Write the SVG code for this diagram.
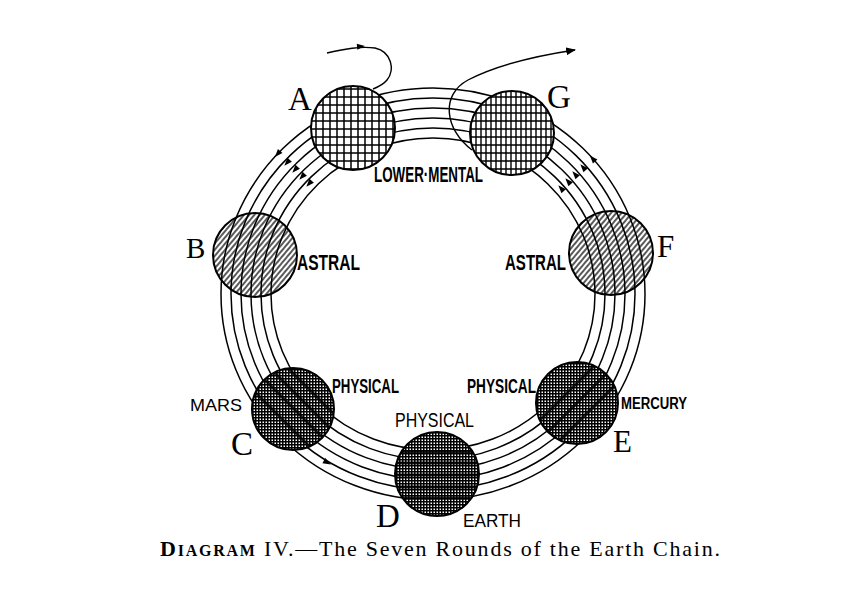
<svg xmlns="http://www.w3.org/2000/svg" width="860" height="589" viewBox="0 0 860 589">
<style>
.ring{fill:none;stroke:#000;stroke-width:1.5}
.edge{stroke:#000;stroke-width:2}
.lbl{font-family:"Liberation Sans",Arial,sans-serif;font-weight:bold;fill:#000}
.reg{font-weight:normal}
.let{font-family:"Liberation Serif","Times New Roman",serif;fill:#000}
.cap{font-family:"Liberation Serif","Times New Roman",serif;fill:#000}
.flow{fill:none;stroke:#000;stroke-width:1.4}
</style>
<defs>
<pattern id="gridA" width="7" height="8" patternUnits="userSpaceOnUse"><path d="M1,0V8M0,1H7" stroke="#000" stroke-width="1.5"/></pattern>
<pattern id="gridG" width="5" height="8" patternUnits="userSpaceOnUse"><path d="M1,0V8M0,1H5" stroke="#000" stroke-width="1.4"/></pattern>
<pattern id="hatch" width="4" height="4" patternUnits="userSpaceOnUse" patternTransform="rotate(40)"><path d="M1,0V4" stroke="#000" stroke-width="1.3"/></pattern>
<pattern id="fine" width="3" height="3" patternUnits="userSpaceOnUse"><path d="M0.7,0V3M0,0.7H3" stroke="#000" stroke-width="1.6"/></pattern>
<path id="ah" d="M1,0 L-7,-3 L-7,3 Z" fill="#000"/>
<marker id="arr" viewBox="0 0 10 10" refX="9" refY="5" markerWidth="7" markerHeight="7" orient="auto"><path d="M0,1 L10,5 L0,9 Z" fill="#000"/></marker>
<clipPath id="cC"><circle cx="293" cy="409" r="41"/></clipPath>
<clipPath id="cD"><circle cx="437" cy="474" r="42"/></clipPath>
<clipPath id="cE"><circle cx="577" cy="403" r="41"/></clipPath>
</defs>
<rect width="860" height="589" fill="#fff"/>

<g id="connectors">
<ellipse class="ring" cx="433" cy="294" rx="212" ry="206"/>
<ellipse class="ring" cx="433" cy="294" rx="202" ry="196"/>
<ellipse class="ring" cx="433" cy="294" rx="192" ry="186"/>
<ellipse class="ring" cx="433" cy="294" rx="182" ry="176"/>
<ellipse class="ring" cx="433" cy="294" rx="172" ry="166"/>
<ellipse class="ring" cx="433" cy="294" rx="162" ry="156"/>
<use href="#ah" transform="translate(275.5,156.2) rotate(132)"/>
<use href="#ah" transform="translate(285,165) rotate(132)"/>
<use href="#ah" transform="translate(293,172) rotate(132)"/>
<use href="#ah" transform="translate(300,179) rotate(132)"/>
<use href="#ah" transform="translate(307,186) rotate(132)"/>
<use href="#ah" transform="translate(590.5,156.2) rotate(-132)"/>
<use href="#ah" transform="translate(581,165) rotate(-132)"/>
<use href="#ah" transform="translate(573,172) rotate(-132)"/>
<use href="#ah" transform="translate(566,179) rotate(-132)"/>
<use href="#ah" transform="translate(559,186) rotate(-132)"/>
<use href="#ah" transform="translate(330,464) rotate(28)"/>
<path class="flow" d="M327,53 C345,49 360,46 375,48 C392,52 395,70 387,80 C383,85 378,87 373,89"/>
<use href="#ah" transform="translate(364,46) rotate(-6)"/>
<path class="flow" d="M472,150 C445,130 440,95 468,80 C495,66 535,56 575,50" marker-end="url(#arr)"/>
</g>

<g id="globe-A">
<circle cx="353" cy="128" r="42" fill="#fff"/>
<circle cx="353" cy="128" r="42" fill="url(#gridA)" class="edge"/>
<text class="let" x="288" y="110" font-size="33">A</text>
<text class="lbl" x="374" y="182" font-size="22" textLength="109" lengthAdjust="spacingAndGlyphs">LOWER·MENTAL</text>
</g>

<g id="globe-G">
<circle cx="512" cy="133" r="42" fill="#fff"/>
<circle cx="512" cy="133" r="42" fill="url(#gridG)" class="edge"/>
<text class="let" x="547" y="108" font-size="33">G</text>
</g>

<g id="globe-B">
<circle cx="255" cy="255" r="42" fill="url(#hatch)" class="edge"/>
<text class="let" x="186" y="258" font-size="29">B</text>
<text class="lbl" x="297" y="270" font-size="22" textLength="63" lengthAdjust="spacingAndGlyphs">ASTRAL</text>
</g>

<g id="globe-F">
<circle cx="611" cy="253" r="42" fill="url(#hatch)" class="edge"/>
<text class="let" x="657" y="257" font-size="31">F</text>
<text class="lbl" x="505" y="270" font-size="22" textLength="61" lengthAdjust="spacingAndGlyphs">ASTRAL</text>
</g>

<g id="globe-C">
<circle cx="293" cy="409" r="41" fill="#fff"/>
<circle cx="293" cy="409" r="41" fill="url(#fine)"/>
<g clip-path="url(#cC)" stroke="#000" stroke-width="3" opacity="0.8">
<path d="M255,370 L335,450 M262,360 L342,440 M248,385 L318,455 M270,350 L350,430"/>
</g>
<circle cx="293" cy="409" r="41" fill="none" class="edge"/>
<text class="let" x="231" y="455" font-size="33">C</text>
<text class="lbl reg" x="190" y="411" font-size="17" textLength="52" lengthAdjust="spacingAndGlyphs">MARS</text>
<text class="lbl" x="332" y="393" font-size="20" textLength="67" lengthAdjust="spacingAndGlyphs">PHYSICAL</text>
</g>

<g id="globe-D">
<circle cx="437" cy="474" r="42" fill="#fff"/>
<circle cx="437" cy="474" r="42" fill="url(#fine)"/>
<g clip-path="url(#cD)" stroke="#000" stroke-width="3.2" opacity="0.85">
<path d="M390,452 H485 M390,463 H485 M390,475 H485 M390,487 H485 M390,498 H485"/>
</g>
<circle cx="437" cy="474" r="42" fill="none" class="edge"/>
<text class="let" x="376" y="527" font-size="33">D</text>
<text class="lbl reg" x="395" y="427" font-size="21" textLength="79" lengthAdjust="spacingAndGlyphs">PHYSICAL</text>
<text class="lbl reg" x="463" y="527" font-size="18" textLength="58" lengthAdjust="spacingAndGlyphs">EARTH</text>
</g>

<g id="globe-E">
<circle cx="577" cy="403" r="41" fill="#fff"/>
<circle cx="577" cy="403" r="41" fill="url(#fine)"/>
<g clip-path="url(#cE)" stroke="#000" stroke-width="3" opacity="0.8">
<path d="M540,440 L615,365 M555,445 L625,375 M535,425 L600,360"/>
</g>
<circle cx="577" cy="403" r="41" fill="none" class="edge"/>
<text class="let" x="613" y="452" font-size="31">E</text>
<text class="lbl" x="467" y="393" font-size="20" textLength="69" lengthAdjust="spacingAndGlyphs">PHYSICAL</text>
<text class="lbl" x="621" y="409" font-size="16" textLength="66" lengthAdjust="spacingAndGlyphs">MERCURY</text>
</g>

<text class="cap" x="160" y="556" font-size="22" textLength="560" lengthAdjust="spacing"><tspan font-weight="bold">D</tspan><tspan font-size="16" font-weight="bold">IAGRAM</tspan> IV.—The Seven Rounds of the Earth Chain.</text>
</svg>
